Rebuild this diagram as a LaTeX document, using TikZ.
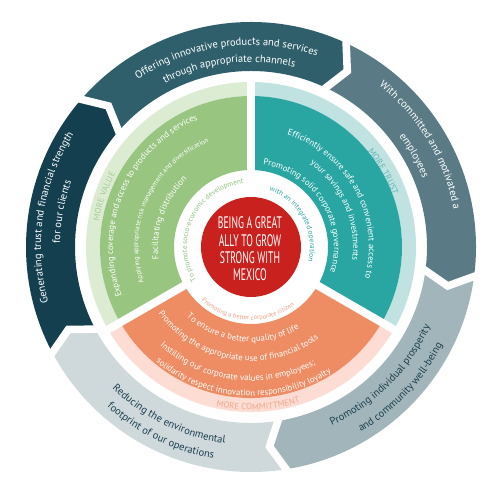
\documentclass[tikz,border=0pt]{standalone}
\usepackage{fontspec}
\setmainfont{PT Sans}
\newfontfamily\condfont[FakeStretch=0.58]{PT Sans}
\usetikzlibrary{decorations.text}
\definecolor{segA}{HTML}{2F5F6B}
\definecolor{segB}{HTML}{5A7B86}
\definecolor{segC}{HTML}{A2B5BB}
\definecolor{segD}{HTML}{CFD9DC}
\definecolor{segE}{HTML}{133F4F}
\definecolor{darktx}{HTML}{1C3F4E}
\definecolor{grn}{HTML}{98C580}
\definecolor{grnl}{HTML}{DCECD3}
\definecolor{grnt}{HTML}{A8CD95}
\definecolor{grns}{HTML}{8EC27A}
\definecolor{tea}{HTML}{2AA6A2}
\definecolor{teal2}{HTML}{C0E2E1}
\definecolor{teat}{HTML}{5FB8B5}
\definecolor{ora}{HTML}{EE8C63}
\definecolor{oral}{HTML}{FDDCD3}
\definecolor{orat}{HTML}{F3A68C}
\definecolor{oras}{HTML}{F0A283}
\definecolor{core}{HTML}{C9211E}
\newcommand\txOut{\fontsize{6}{7}\selectfont\color{white}}
\newcommand\txDark{\fontsize{6}{7}\selectfont\color{darktx}}
\newcommand\txIn{\fontsize{5}{6}\selectfont\color{white}}
\newcommand\txSm{\fontsize{3.9}{4.5}\selectfont\color{white}}
\newcommand\txMV{\fontsize{5}{6}\selectfont\color{grnt}}
\newcommand\txMT{\fontsize{5}{6}\selectfont\color{teat}}
\newcommand\txMC{\fontsize{5}{6}\selectfont\color{orat}}
\newcommand\txGS{\fontsize{4.1}{5}\selectfont\color{grns}}
\newcommand\txTS{\fontsize{4.1}{5}\selectfont\color{tea}}
\newcommand\txOS{\fontsize{3.7}{4.5}\selectfont\color{oras}}
% text on an arc read clockwise (tops outward)
\newcommand\cwtext[5]{\pgfmathsetmacro\sa{#2+#3}\pgfmathsetmacro\ea{#2-#3}%
 \path[decorate,decoration={text along path,text align=center,text={|#4|#5}}] (\sa:#1) arc[start angle=\sa,end angle=\ea,radius=#1];}
% text on an arc read counter-clockwise (tops inward)
\newcommand\ccwtext[5]{\pgfmathsetmacro\sa{#2-#3}\pgfmathsetmacro\ea{#2+#3}%
 \path[decorate,decoration={text along path,text align=center,text={|#4|#5}}] (\sa:#1) arc[start angle=\sa,end angle=\ea,radius=#1];}
% chevron segment of the outer ring, clockwise from #1 to #2
\newcommand\chev[3]{\pgfmathsetmacro\ta{#2-4.2}\pgfmathsetmacro\tb{#1-4.2}%
 \fill[#3] (#1:225) arc[start angle=#1,end angle=#2,radius=225] -- (\ta:200.5) -- (#2:176) arc[start angle=#2,end angle=#1,radius=176] -- (\tb:200.5) -- cycle;}
\newcommand\chevgap[1]{\pgfmathsetmacro\ta{#1-4.2}%
 \draw[white,line width=4.3pt,line join=miter] (#1:229) -- (\ta:200.5) -- (#1:172);}
\tikzset{gapline/.style={white,line width=4.5pt}}
\begin{document}
\begin{tikzpicture}[x=0.02cm,y=0.02cm]
\useasboundingbox[fill=white] (-251,-252) rectangle (248,247);
% outer ring
\chev{139.5}{65.5}{segA}
\chev{65.5}{-7}{segB}
\chev{-7}{-80.5}{segC}
\chev{-80.5}{-151.5}{segD}
\chev{208.5}{139.5}{segE}
\chevgap{139.5}
\chevgap{65.5}
\chevgap{-7}
\chevgap{-80.5}
\chevgap{208.5}
% inner sectors
\fill[grnl] (90:151) arc[start angle=90,end angle=210,radius=151] -- (210:165) arc[start angle=210,end angle=90,radius=165] -- cycle;
\fill[grn] (90:77) arc[start angle=90,end angle=210,radius=77] -- (210:151) arc[start angle=210,end angle=90,radius=151] -- cycle;
\fill[teal2] (-30:151) arc[start angle=-30,end angle=90,radius=151] -- (90:165) arc[start angle=90,end angle=-30,radius=165] -- cycle;
\fill[tea] (-30:77) arc[start angle=-30,end angle=90,radius=77] -- (90:151) arc[start angle=90,end angle=-30,radius=151] -- cycle;
\fill[oral] (210:151) arc[start angle=210,end angle=330,radius=151] -- (330:165) arc[start angle=330,end angle=210,radius=165] -- cycle;
\fill[ora] (210:77) arc[start angle=210,end angle=330,radius=77] -- (330:151) arc[start angle=330,end angle=210,radius=151] -- cycle;
\coordinate (o) at (0,0);
\coordinate (g1) at (90:170);
\coordinate (g2) at (-30:170);
\coordinate (g3) at (210:170);
\draw[gapline] (o) -- (g1);
\draw[gapline] (o) -- (g2);
\draw[gapline] (o) -- (g3);
\fill[core] (o) circle[radius=50];
\node[font=\condfont\fontsize{9.5}{9.9}\selectfont,text=white,align=center,inner sep=0pt] (corelabel) at (-1,-2) {BEING A GREAT\\ALLY TO GROW\\STRONG WITH\\MEXICO};
% outer texts
\cwtext{202}{97.5}{80}{\txOut}{Offering innovative products and services}
\cwtext{185}{97}{80}{\txOut}{through appropriate channels}
\cwtext{206}{31}{80}{\txOut}{With committed and motivated a}
\cwtext{185}{29.3}{80}{\txOut}{employees}
\ccwtext{196}{-44.8}{80}{\txDark}{Promoting individual prosperity}
\ccwtext{215}{-43.2}{80}{\txDark}{and community well-being}
\ccwtext{198}{244}{80}{\txDark}{Reducing the environmental}
\ccwtext{215}{244}{80}{\txDark}{footprint of our operations}
\cwtext{210}{171.5}{80}{\txOut}{Generating trust and financial strength}
\cwtext{191}{169.5}{80}{\txOut}{for our clients}
% green
\cwtext{154}{161}{60}{\txMV}{MORE VALUE}
\cwtext{138}{156.7}{85}{\txIn}{Expanding coverage and access to products and services}
\cwtext{113}{155}{85}{\txSm}{Applying appropriate risk management and diversification}
\cwtext{93}{160.5}{85}{\txIn}{Facilitating distribution}
\cwtext{64}{154}{85}{\txGS}{To promote socio-economic development}
% teal
\cwtext{151}{29.7}{60}{\txMT}{MORE TRUST}
\cwtext{118}{28.5}{85}{\txIn}{Efficiently ensure safe and convenient access to}
\cwtext{102}{23.5}{85}{\txIn}{your savings and investments}
\cwtext{83}{32}{85}{\txIn}{Promoting solid corporate governance}
\cwtext{59}{29}{85}{\txTS}{with an integrated operation}
% orange
\ccwtext{73}{267}{85}{\txOS}{Promoting a better corporate citizen}
\ccwtext{95}{264}{85}{\txIn}{To ensure a better quality of life}
\ccwtext{114}{261}{85}{\txIn}{Promoting the appropriate use of financial tools}
\ccwtext{134}{263}{85}{\txIn}{Instilling our corporate values in employees;}
\ccwtext{149}{266.5}{85}{\txIn}{solidarity  respect  innovation responsibility  loyalty}
\ccwtext{163}{272.6}{60}{\txMC}{MORE COMMITTMENT}
\end{tikzpicture}
\end{document}
